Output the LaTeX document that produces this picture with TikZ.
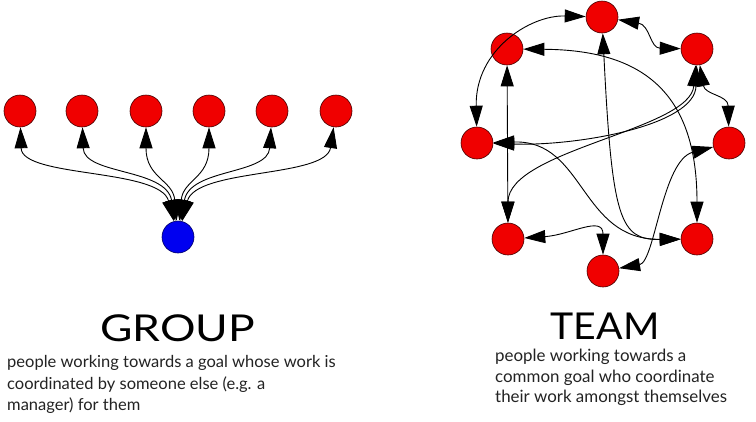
\documentclass[tikz,border=0pt]{standalone}
\usepackage{fontspec}
\setmainfont{Lato}
\usetikzlibrary{arrows.meta}
\definecolor{nred}{RGB}{240,0,0}
\definecolor{nblue}{RGB}{0,0,240}
\definecolor{nline}{RGB}{70,0,0}
\definecolor{txt}{RGB}{35,35,35}
\begin{document}
\begin{tikzpicture}[x=1pt,y=-1pt,
  person/.style={circle, draw=nline, line width=0.6pt, fill=nred, minimum size=32pt, inner sep=0pt},
  boss/.style={person, fill=nblue, draw=black!60!blue},
  link/.style={line width=0.9pt, {Triangle[length=21pt,width=13pt]}-{Triangle[length=21pt,width=13pt]}},
  titletext/.style={inner sep=0pt, anchor=base, text=black, font=\fontsize{37}{40}\selectfont},
  bodytext/.style={inner sep=0pt, anchor=base west, text=txt, font=\fontsize{16.5}{20}\selectfont},
  teamtext/.style={bodytext, font=\fontsize{16.9}{20}\selectfont}
]
\fill[white] (0,0) rectangle (756,421);
\useasboundingbox (0,0) rectangle (756,421);

% GROUP graph
\node[person] (r1) at (20,111) {};
\node[person] (r2) at (82,111) {};
\node[person] (r3) at (146,111) {};
\node[person] (r4) at (209,111) {};
\node[person] (r5) at (272,111) {};
\node[person] (r6) at (336,111) {};
\node[boss] (bl) at (178,237) {};

\draw[link] (bl) .. controls (160,168) and (22,178) .. (r1);
\draw[link] (bl) .. controls (166,168) and (84,175) .. (r2);
\draw[link] (bl) .. controls (173,180) and (146,178) .. (r3);
\draw[link] (bl) .. controls (183,180) and (209,178) .. (r4);
\draw[link] (bl) .. controls (190,168) and (268,175) .. (r5);
\draw[link] (bl) .. controls (196,168) and (326,178) .. (r6);

% TEAM graph
\node[person] (A) at (602,17) {};
\node[person] (B) at (507,49) {};
\node[person] (C) at (697,49) {};
\node[person] (D) at (477,143) {};
\node[person] (E) at (729,143) {};
\node[person] (F) at (508,239) {};
\node[person] (G) at (697,239) {};
\node[person] (H) at (603,271) {};

\draw[link] (A) .. controls (530,15) and (475,50) .. (D);
\draw[link] (A) .. controls (650,25) and (650,48) .. (C);
\draw[link] (B) .. controls (640,50) and (697,90) .. (G);
\draw[link] (A) .. controls (612,220) and (620,240) .. (G);
\draw[link] (D) .. controls (585,140) and (580,240) .. (G);
\draw[link] (C) .. controls (695,125) and (580,146) .. (D);
\draw[link] (C) .. controls (690,130) and (508,150) .. (F);
\draw[link] (B) -- (F);
\draw[link] (C) .. controls (705,95) and (728,95) .. (E);
\draw[link] (E) .. controls (662,160) and (655,262) .. (H);
\draw[link] (F) .. controls (570,235) and (603,215) .. (H);

% texts
\node[titletext] (gt) at (177.5,341) {\scalebox{1.2}[1]{GROUP}};
\node[bodytext] (g1) at (7,367) {people working towards a goal whose work is};
\node[bodytext] (g2) at (7,389) {coordinated by someone else (e.g. a};
\node[bodytext] (g3) at (7,410) {manager) for them};

\node[titletext] (tt) at (605,339) {\scalebox{1.06}[1]{TEAM}};
\node[teamtext] (t1) at (495,361) {people working towards a};
\node[teamtext] (t2) at (495,382) {common goal who coordinate};
\node[teamtext] (t3) at (495,402) {their work amongst themselves};
\end{tikzpicture}
\end{document}
